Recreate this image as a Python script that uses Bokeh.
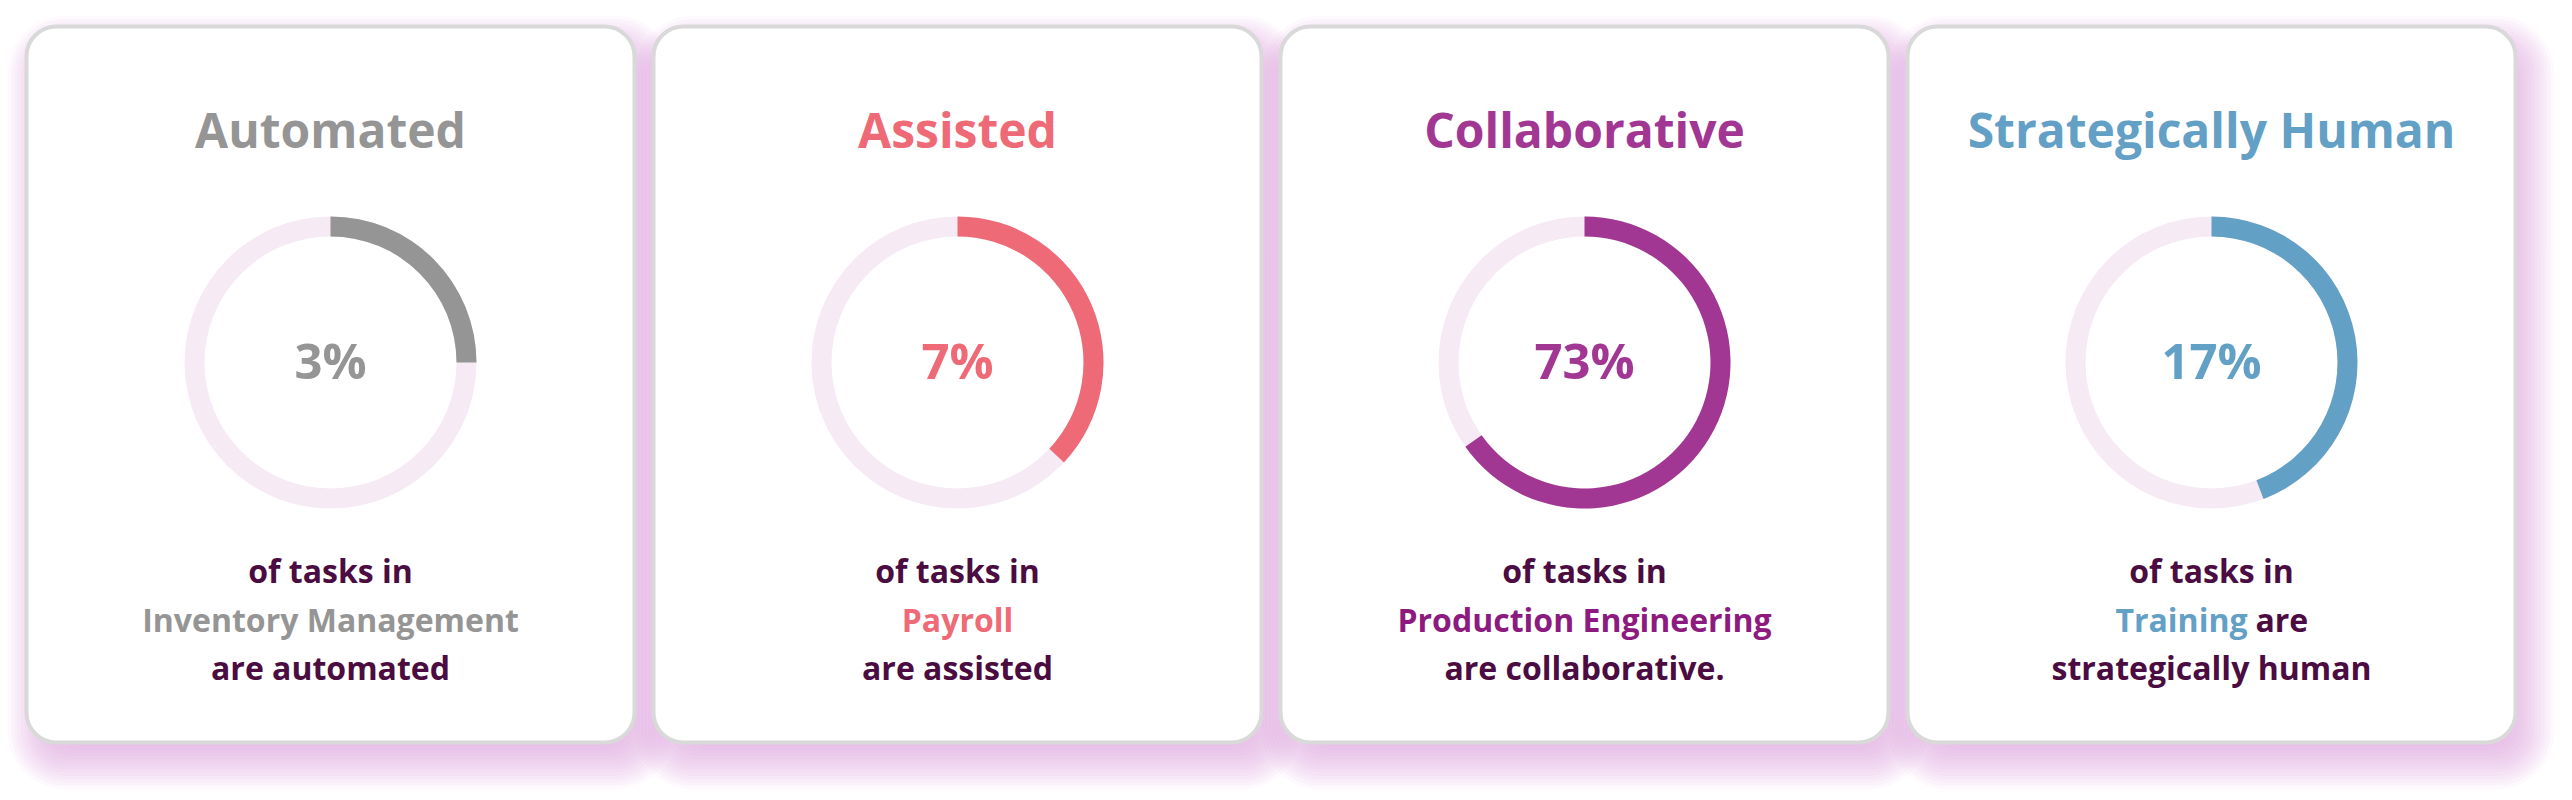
from bokeh.plotting import figure
from bokeh.models import BoxAnnotation, Range1d
from bokeh.core.properties import value
from bokeh.embed import file_html
from bokeh.resources import INLINE
import math

# ---- data ----
titles = ["Automated", "Assisted", "Collaborative", "Strategically Human"]
percent_labels = ["3%", "7%", "73%", "17%"]
arc_fractions = [0.25, 0.37, 0.652, 0.442]   # arc lengths as drawn in the picture
line1 = ["of tasks in", "of tasks in", "of tasks in", "of tasks in"]
line2_highlight = ["Inventory Management", "Payroll", "Production Engineering", "Training"]
line2_rest = ["", "", "", "are"]
line3 = ["are automated", "are assisted", "are collaborative.", "strategically human"]

# ---- styles ----
accent = ["#959595", "#EE6A76", "#A13793", "#63A0C6"]
highlight = ["#959595", "#EE6A76", "#8C1A7F", "#63A0C6"]
dark = "#4B0C41"
track = "#F6EAF5"
border = "#D9D9D9"
shadow = "#D690D2"
FONT = value("Open Sans")

W, H = 2572, 800
p = figure(width=W, height=H, output_backend="svg", toolbar_location=None,
           x_range=Range1d(0, W), y_range=Range1d(0, H), min_border=0)
p.axis.visible = False
p.grid.visible = False
p.outline_line_color = None
p.background_fill_color = "white"
p.border_fill_color = "white"

def X(px):
    return px

def Y(py):
    return H - py

def TY(py, fs):
    # baseline correction for the text glyph
    return H - (py - 0.43 * fs)

pitch = 627
n = len(titles)

# shadows
for i in range(n):
    l, r, t, b = 26 + i * pitch, 634 + i * pitch, 26, 742
    ox, oy, blur = 10, 18, 32
    steps = 14
    for k in range(steps):
        e = -blur * 0.45 + k * (blur * 1.45 / steps)
        p.add_layout(BoxAnnotation(left=X(l - e + ox), right=X(r + e + ox),
                                   top=Y(t - e + oy), bottom=Y(b + e + oy),
                                   fill_color=shadow, fill_alpha=0.055,
                                   line_color=None, border_radius=int(30 + max(e, 0)),
                                   level="underlay"))
# cards
for i in range(n):
    l, r, t, b = 26 + i * pitch, 634 + i * pitch, 26, 742
    p.add_layout(BoxAnnotation(left=X(l), right=X(r), top=Y(t), bottom=Y(b),
                               fill_color="white", fill_alpha=1.0,
                               line_color=border, line_width=4, line_alpha=1.0,
                               border_radius=30, level="underlay"))

cx = [X(330 + i * pitch) for i in range(n)]
cy = [Y(362)] * n

# donut tracks and arcs
p.annulus(x=cx, y=cy, inner_radius=126, outer_radius=146, fill_color=track, line_color=None)
p.annular_wedge(x=cx, y=cy, inner_radius=126, outer_radius=146,
                start_angle=[math.pi / 2] * n,
                end_angle=[math.pi / 2 - 2 * math.pi * f for f in arc_fractions],
                direction="clock", fill_color=accent, line_color=None)

TS, PS, SS = 48, 49, 32
# titles
p.text(x=cx, y=[TY(150, TS)] * n, text=titles, text_color=accent, text_font=FONT,
       text_font_style="bold", text_font_size=f"{TS}px", text_align="center",
       text_baseline="alphabetic")
# percent
p.text(x=cx, y=[TY(381, PS)] * n, text=percent_labels, text_color=accent, text_font=FONT,
       text_font_style="bold", text_font_size=f"{PS}px", text_align="center",
       text_baseline="alphabetic")
# line 1 and 3
p.text(x=cx, y=[TY(584, SS)] * n, text=line1, text_color=dark, text_font=FONT,
       text_font_style="bold", text_font_size=f"{SS}px", text_align="center",
       text_baseline="alphabetic")
p.text(x=cx, y=[TY(681, SS)] * n, text=line3, text_color=dark, text_font=FONT,
       text_font_style="bold", text_font_size=f"{SS}px", text_align="center",
       text_baseline="alphabetic")
# line 2
for i in range(n):
    if line2_rest[i]:
        p.text(x=[cx[i] + 36], y=[TY(633, SS)], text=[line2_highlight[i]], text_color=highlight[i],
               text_font=FONT, text_font_style="bold", text_font_size=f"{SS}px",
               text_align="right", text_baseline="alphabetic")
        p.text(x=[cx[i] + 44], y=[TY(633, SS)], text=[line2_rest[i]], text_color=dark,
               text_font=FONT, text_font_style="bold", text_font_size=f"{SS}px",
               text_align="left", text_baseline="alphabetic")
    else:
        p.text(x=[cx[i]], y=[TY(633, SS)], text=[line2_highlight[i]], text_color=highlight[i],
               text_font=FONT, text_font_style="bold", text_font_size=f"{SS}px",
               text_align="center", text_baseline="alphabetic")

open("out.html", "w").write(file_html(p, INLINE))
